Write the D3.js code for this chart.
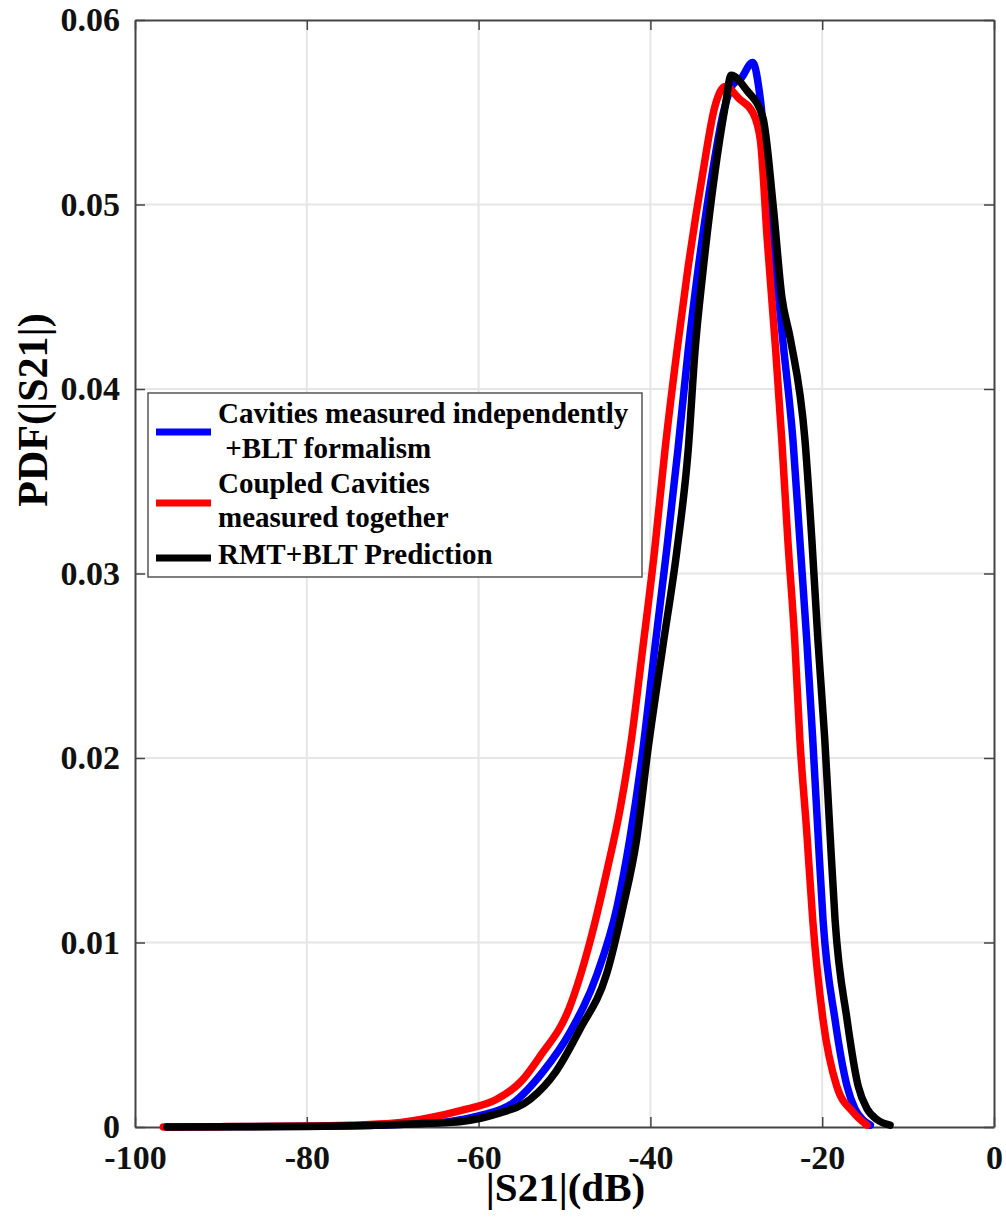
<!DOCTYPE html>
<html>
<head>
<meta charset="utf-8">
<script src="https://cdn.jsdelivr.net/npm/d3@7"></script>
<style>
body{margin:0;background:#fff;}
text{font-family:"Liberation Serif","Times New Roman",serif;font-weight:bold;}
</style>
</head>
<body>
<div class="chart"></div>
<script>
// |S21| in dB and pdf values
const blueX = [-96.3,-90,-80,-72,-66,-63.3,-60,-56.0,-52.5,-49.4,-46.2,-43.9,-42.4,-41.0,-39.5,-38.1,-36.8,-35.6,-34.5,-32.8,-31.5,-30.4,-29.5,-28.1,-27.2,-26.1,-24.6,-23.4,-22.6,-21.8,-21.1,-20.5,-19.9,-18.5,-17.1,-16.2,-15.3,-14.4];
const blueY = [0,0.00001,0.00004,0.0001,0.0002,0.0003,0.0006,0.0013,0.0030,0.0051,0.0083,0.0119,0.0156,0.0200,0.0259,0.0313,0.0367,0.0421,0.0463,0.0517,0.0550,0.0565,0.0568,0.0577,0.0557,0.0499,0.0427,0.0372,0.0318,0.0264,0.0210,0.0160,0.0112,0.0058,0.0022,0.0010,0.0004,0.0001];

const redX = [-96.7,-90,-80,-75,-70,-65.7,-62,-57.9,-55,-52.9,-49.4,-47.0,-45.1,-43.5,-42.3,-40.9,-39.5,-38.3,-36.9,-35.7,-33.9,-32.5,-31.3,-29.6,-28.1,-27.2,-26.4,-25.4,-24.7,-24.0,-23.2,-22.6,-21.8,-21.1,-19.9,-18.3,-16.4,-14.8];
const redY = [0,0.00002,0.00005,0.0001,0.0002,0.0005,0.0009,0.0015,0.0025,0.0038,0.0065,0.0101,0.0138,0.0173,0.0207,0.0259,0.0313,0.0367,0.0421,0.0463,0.0517,0.0553,0.0564,0.0557,0.0550,0.0535,0.0481,0.0420,0.0372,0.0318,0.0264,0.0210,0.0160,0.0112,0.0058,0.0022,0.0008,0.0001];

const blackX = [-96.3,-90,-80,-72,-66,-62,-58,-54,-51,-48.2,-45.1,-43.2,-41.6,-40.3,-38.6,-36.9,-35.6,-34.8,-33.9,-32.5,-31.3,-30.6,-28.8,-26.9,-25.7,-24.7,-23.7,-22.0,-21.2,-20.5,-19.7,-19.1,-18.5,-17.1,-15.8,-14.8,-13.6,-12.1];
const blackY = [0,0.00001,0.00003,0.0001,0.0002,0.0003,0.0007,0.0015,0.0030,0.0053,0.0083,0.0119,0.0156,0.0204,0.0259,0.0313,0.0367,0.0421,0.0463,0.0517,0.0553,0.0570,0.0562,0.0547,0.0499,0.0450,0.0427,0.0372,0.0318,0.0264,0.0210,0.0160,0.0112,0.0058,0.0022,0.0010,0.0004,0.0001];

const xTicks = [-100,-80,-60,-40,-20,0];
const xTickLabels = ["-100","-80","-60","-40","-20","0"];
const yTicks = [0,0.01,0.02,0.03,0.04,0.05,0.06];
const yTickLabels = ["0","0.01","0.02","0.03","0.04","0.05","0.06"];

const legendLabels = [
    ["Cavities measured independently"," +BLT formalism"],
    ["Coupled Cavities","measured together"],
    ["RMT+BLT Prediction"]
];

const series = [
    {name:legendLabels[0].join(""), color:"#0000ff", xs:blueX, ys:blueY},
    {name:legendLabels[1].join(" "), color:"#ff0000", xs:redX, ys:redY},
    {name:legendLabels[2][0], color:"#000000", xs:blackX, ys:blackY}
];

const margin = {top:20, left:135, right:12, bottom:105};
const width = 1006 - margin.left - margin.right;
const height = 1232 - margin.top - margin.bottom;

const svg = d3.select(".chart").append("svg")
    .attr("width", width + margin.left + margin.right)
    .attr("height", height + margin.top + margin.bottom)
    .append("g")
    .attr("transform", "translate(" + margin.left + "," + margin.top + ")");

const xScale = d3.scaleLinear().domain([-100,0]).range([0,width]);
const yScale = d3.scaleLinear().domain([0,0.06]).range([height,0]);

// grid
svg.append("g").selectAll("line.gx")
    .data(xTicks.slice(1,-1))
    .enter().append("line")
    .attr("x1",d=>xScale(d)).attr("x2",d=>xScale(d))
    .attr("y1",0).attr("y2",height)
    .attr("stroke","#e6e6e6").attr("stroke-width",2);
svg.append("g").selectAll("line.gy")
    .data(yTicks.slice(1,-1))
    .enter().append("line")
    .attr("y1",d=>yScale(d)).attr("y2",d=>yScale(d))
    .attr("x1",0).attr("x2",width)
    .attr("stroke","#e6e6e6").attr("stroke-width",2);

// axes (ticks inward, MATLAB style)
const xAxis = d3.axisBottom(xScale).tickValues(xTicks).tickSizeInner(-10).tickSizeOuter(0).tickPadding(18)
    .tickFormat((d,i)=>xTickLabels[i]);
svg.append("g")
    .attr("class","axis x-axis")
    .attr("transform",`translate(0, ${height})`)
    .call(xAxis);
const yAxis = d3.axisLeft(yScale).tickValues(yTicks).tickSizeInner(-10).tickSizeOuter(0).tickPadding(15)
    .tickFormat((d,i)=>yTickLabels[i]);
svg.append("g")
    .attr("class","axis y-axis")
    .call(yAxis);
svg.append("g")
    .call(d3.axisTop(xScale).tickValues(xTicks).tickSizeInner(-10).tickSizeOuter(0).tickFormat(""));
svg.append("g").attr("transform",`translate(${width},0)`)
    .call(d3.axisRight(yScale).tickValues(yTicks).tickSizeInner(-10).tickSizeOuter(0).tickFormat(""));

svg.selectAll(".domain").attr("stroke","#444").attr("stroke-width",2);
svg.selectAll(".tick line").attr("stroke","#444").attr("stroke-width",1.5);
svg.selectAll(".tick text").attr("font-size",34).attr("fill","#111");

// curves
const line = d3.line()
    .x(d=>xScale(d[0]))
    .y(d=>yScale(d[1]))
    .curve(d3.curveMonotoneX);

svg.selectAll(".curve")
    .data(series)
    .enter()
    .append("path")
    .attr("class","curve")
    .attr("fill","none")
    .attr("stroke",d=>d.color)
    .attr("stroke-width",7.5)
    .attr("stroke-linejoin","round")
    .attr("stroke-linecap","round")
    .attr("d",d=>line(d.xs.map((x,i)=>[x,d.ys[i]])));

// axis labels
svg.append("text")
    .attr("x",width/2+1)
    .attr("y",height+74)
    .attr("text-anchor","middle")
    .attr("font-size",41)
    .text("|S21|(dB)");

svg.append("text")
    .attr("transform",`translate(${-88},${390}) rotate(-90)`)
    .attr("text-anchor","middle")
    .attr("font-size",42)
    .text("PDF(|S21|)");

// legend
const legend = svg.append("g").attr("transform",`translate(${148-margin.left},${393-margin.top})`);
legend.append("rect")
    .attr("width",494).attr("height",184)
    .attr("fill","#fff").attr("stroke","#555").attr("stroke-width",1.5);

const rowY = [[30,65],[100,134],[171]];
const lineY = [39,110,165];
legend.selectAll(".legend-line")
    .data(series)
    .enter().append("line")
    .attr("x1",8).attr("x2",63)
    .attr("y1",(d,i)=>lineY[i]).attr("y2",(d,i)=>lineY[i])
    .attr("stroke",d=>d.color).attr("stroke-width",7);

legendLabels.forEach((rows,i)=>{
    rows.forEach((t,j)=>{
        legend.append("text")
            .attr("x",70)
            .attr("y",rowY[i][j])
            .attr("font-size",29)
            .attr("xml:space","preserve")
            .style("white-space","pre")
            .text(t);
    });
});
</script>
</body>
</html>
